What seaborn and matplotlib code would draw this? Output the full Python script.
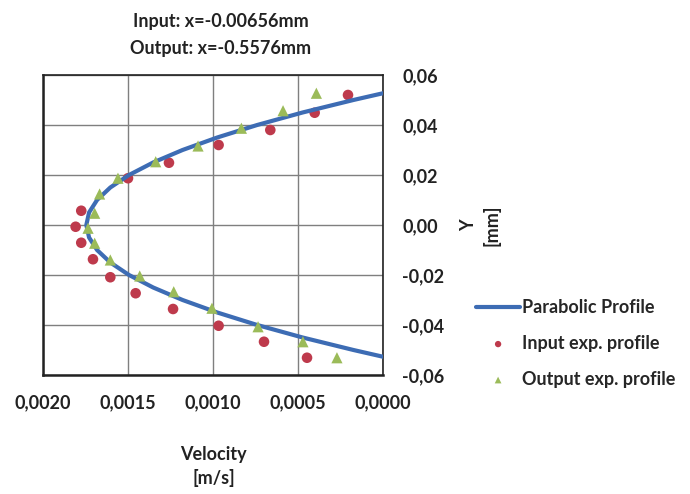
import seaborn as sns
import matplotlib.pyplot as plt
import pandas as pd
from matplotlib.ticker import FuncFormatter

# parabolic profile
curve_y = [-0.0527, -0.050, -0.045, -0.040, -0.035, -0.030, -0.025, -0.020, -0.015, -0.010, -0.005, 0.000,
           0.005, 0.010, 0.015, 0.020, 0.025, 0.030, 0.035, 0.040, 0.045, 0.050, 0.0527]
curve_v = [0.0, 0.000174, 0.000473, 0.000740, 0.000975, 0.001179, 0.001352, 0.001494, 0.001604, 0.001682,
           0.001729, 0.001745, 0.001729, 0.001682, 0.001604, 0.001494, 0.001352, 0.001179, 0.000975,
           0.000740, 0.000473, 0.000174, 0.0]

input_v = [0.000206, 0.000402, 0.000663, 0.000967, 0.001259, 0.001500, 0.001775, 0.001808, 0.001775,
           0.001706, 0.001604, 0.001455, 0.001235, 0.000967, 0.000700, 0.000447]
input_y = [0.0520, 0.0449, 0.0380, 0.0320, 0.0249, 0.0187, 0.0057, -0.0007, -0.0071,
           -0.0137, -0.0209, -0.0273, -0.0336, -0.0403, -0.0467, -0.0531]

output_v = [0.000392, 0.000588, 0.000833, 0.001088, 0.001337, 0.001559, 0.001667, 0.001696, 0.001735,
            0.001696, 0.001604, 0.001431, 0.001231, 0.001006, 0.000735, 0.000471, 0.000271]
output_y = [0.0527, 0.0457, 0.0387, 0.0316, 0.0253, 0.0187, 0.0124, 0.0047, -0.0013,
            -0.0073, -0.0140, -0.0204, -0.0267, -0.0333, -0.0407, -0.0467, -0.0531]

x_ticks = [0.0020, 0.0015, 0.0010, 0.0005, 0.0000]
y_ticks = [-0.06, -0.04, -0.02, 0.00, 0.02, 0.04, 0.06]

sns.set_style("white")
plt.rcParams['font.family'] = ['Lato', 'DejaVu Sans']
plt.rcParams['font.weight'] = 'bold'
fs = 13

fig = plt.figure(figsize=(6.9, 4.94), dpi=100)
ax = fig.add_axes([0.0623, 0.2409, 0.4928, 0.6073])

curve = pd.DataFrame({"v": curve_v, "y": curve_y})
inp = pd.DataFrame({"v": input_v, "y": input_y})
outp = pd.DataFrame({"v": output_v, "y": output_y})

sns.lineplot(data=curve, x="v", y="y", sort=False, estimator=None, color="#3d6cb4", linewidth=3,
             ax=ax, label="Parabolic Profile", zorder=3)
sns.scatterplot(data=inp, x="v", y="y", color="#be3a4c", marker="o", s=58,
                edgecolor="none", ax=ax, label="Input exp. profile", zorder=2)
sns.scatterplot(data=outp, x="v", y="y", color="#9bbb59", marker="^", s=65,
                edgecolor="none", ax=ax, label="Output exp. profile", zorder=4)

ax.set_xlim(0.0020, 0.0)
ax.set_ylim(-0.06, 0.06)
ax.set_xticks(x_ticks)
ax.set_yticks(y_ticks)
ax.xaxis.set_major_formatter(FuncFormatter(lambda v, p: f"{v:.4f}".replace(".", ",")))
ax.yaxis.set_major_formatter(FuncFormatter(lambda v, p: f"{v:.2f}".replace(".", ",").replace("-0,00", "0,00")))
ax.yaxis.tick_right()
ax.tick_params(axis="y", length=0, pad=14, labelsize=fs)
ax.tick_params(axis="x", length=0, pad=14, labelsize=fs)
for lab in ax.get_xticklabels() + ax.get_yticklabels():
    lab.set_fontweight("bold")
    lab.set_color("#222222")

ax.grid(True, color="#7f7f7f", linewidth=1)
for s in ax.spines.values():
    s.set_visible(True)
    s.set_color("#222222")
    s.set_linewidth(1.2)
ax.spines["bottom"].set_linewidth(1.8)
ax.spines["left"].set_linewidth(1.8)
ax.set_xlabel("")
ax.set_ylabel("")

fig.text(0.32, 0.957, "Input: x=-0.00656mm", ha="center", va="center", fontsize=fs,
         fontweight="bold", color="#222222")
fig.text(0.32, 0.902, "Output: x=-0.5576mm", ha="center", va="center", fontsize=fs,
         fontweight="bold", color="#222222")
fig.text(0.31, 0.079, "Velocity", ha="center", va="center", fontsize=fs,
         fontweight="bold", color="#222222")
fig.text(0.31, 0.032, "[m/s]", ha="center", va="center", fontsize=fs,
         fontweight="bold", color="#222222")
fig.text(0.679, 0.545, "Y", ha="center", va="center", rotation=90, fontsize=fs,
         fontweight="bold", color="#222222")
fig.text(0.713, 0.545, "[mm]", ha="center", va="center", rotation=90, fontsize=fs,
         fontweight="bold", color="#222222")

ax.legend_.remove()
h, l = ax.get_legend_handles_labels()
fig.legend(h, l, loc="center left", bbox_to_anchor=(0.68, 0.305), frameon=False,
           fontsize=fs, handlelength=2.4, handletextpad=0.15, labelspacing=1.05,
           markerscale=0.6, borderaxespad=0)

fig.savefig("out.png", dpi=100, facecolor="white")
